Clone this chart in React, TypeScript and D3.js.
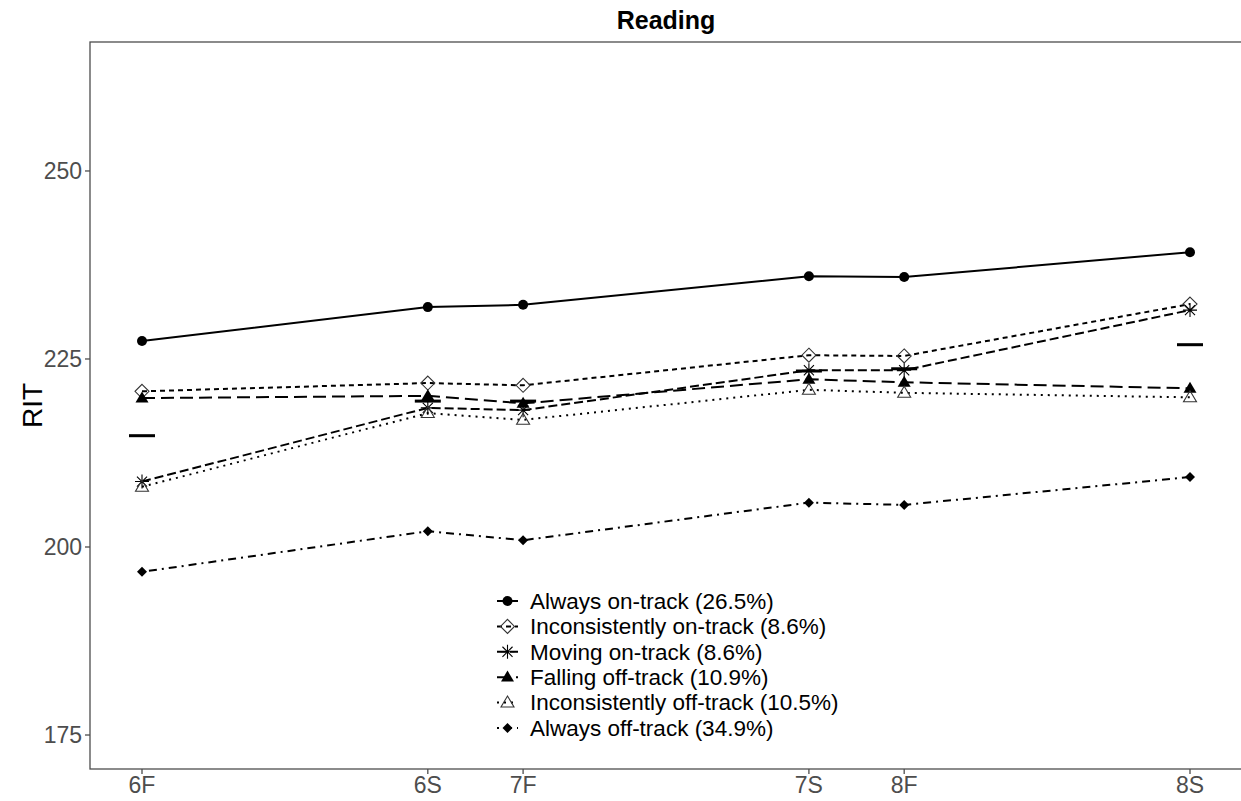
import * as d3 from 'd3';

// waves, spaced by months from the fall of 6th grade
const waves = ['6F', '6S', '7F', '7S', '8F', '8S'];
const waveX = [0, 3, 4, 7, 8, 11];

const groupNames = [
    'Always on-track (26.5%)',
    'Inconsistently on-track (8.6%)',
    'Moving on-track (8.6%)',
    'Falling off-track (10.9%)',
    'Inconsistently off-track (10.5%)',
    'Always off-track (34.9%)',
];

const alwaysOn = [227.4, 231.9, 232.2, 236.0, 235.9, 239.2];
const inconsistentlyOn = [220.7, 221.8, 221.5, 225.5, 225.4, 232.3];
const movingOn = [208.7, 218.5, 218.2, 223.5, 223.5, 231.5];
const fallingOff = [219.8, 220.1, 219.1, 222.3, 221.9, 221.1];
const inconsistentlyOff = [208.0, 217.8, 216.9, 220.9, 220.5, 219.9];
const alwaysOff = [196.7, 202.1, 200.9, 205.9, 205.6, 209.3];

// overall mean at each wave (short bars)
const overallMean = [214.8, 219.4, 219.4, 223.4, 223.7, 226.9];

const yTicks = [175, 200, 225, 250];

const seriesValues = [alwaysOn, inconsistentlyOn, movingOn, fallingOff, inconsistentlyOff, alwaysOff];
const dashes = ['none', '5,4', '9,4', '13,6', '2,5', '2,5,8,5'];
const shapes = ['circle', 'diamondOpen', 'asterisk', 'triangle', 'triangleOpen', 'diamond'];

const W = 1241;
const H = 801;
const left = 90, right = 1242, top = 42, bottom = 769;

const x = d3.scaleLinear().domain([0, 11]).range([142, 1190]);
const y = d3.scaleLinear().domain([170.48, 267.15]).range([bottom, top]);

function Marker({ shape, cx, cy }: { shape: string; cx: number; cy: number }) {
    if (shape === 'circle') return <circle cx={cx} cy={cy} r={5} fill="#000" />;
    if (shape === 'diamondOpen') {
        const s = 7;
        return <path d={`M${cx},${cy - s}L${cx + s},${cy}L${cx},${cy + s}L${cx - s},${cy}Z`} fill="none" stroke="#333" strokeWidth={1.1} />;
    }
    if (shape === 'diamond') {
        const s = 5;
        return <path d={`M${cx},${cy - s}L${cx + s},${cy}L${cx},${cy + s}L${cx - s},${cy}Z`} fill="#000" />;
    }
    if (shape === 'triangle' || shape === 'triangleOpen') {
        const w = 6.5, h = 11;
        const d = `M${cx},${cy - h * 0.6}L${cx + w},${cy + h * 0.4}L${cx - w},${cy + h * 0.4}Z`;
        return shape === 'triangle'
            ? <path d={d} fill="#000" />
            : <path d={d} fill="none" stroke="#333" strokeWidth={1.1} />;
    }
    // asterisk: plus and cross
    const r = 7, q = r * 0.72;
    return (
        <path
            d={`M${cx - r},${cy}L${cx + r},${cy}M${cx},${cy - r}L${cx},${cy + r}M${cx - q},${cy - q}L${cx + q},${cy + q}M${cx - q},${cy + q}L${cx + q},${cy - q}`}
            stroke="#000" strokeWidth={1.1} fill="none"
        />
    );
}

export default function App() {
    const line = d3.line<number>()
        .x((_, i) => x(waveX[i]))
        .y(d => y(d));

    const legendX = 497, legendY = 601, legendStep = 25.4;

    return (
        <svg width={W} height={H} style={{ position: 'absolute', left: 0, top: 0, background: '#fff' }}
            fontFamily="'Liberation Sans', Arial, sans-serif">
            <rect x={0} y={0} width={W} height={H} fill="#fff" />

            {/* lines */}
            {seriesValues.map((vals, i) => (
                <path key={'l' + i} d={line(vals) || ''} fill="none" stroke="#000" strokeWidth={2}
                    strokeDasharray={dashes[i]} />
            ))}

            {/* points */}
            {seriesValues.map((vals, i) =>
                vals.map((v, j) => <Marker key={'p' + i + '-' + j} shape={shapes[i]} cx={x(waveX[j])} cy={y(v)} />)
            )}

            {/* overall means */}
            {overallMean.map((v, j) => (
                <rect key={'m' + j} x={x(waveX[j]) - 13} y={y(v) - 1.5} width={26} height={3} fill="#000" />
            ))}

            {/* panel border */}
            <rect x={left} y={top} width={right - left} height={bottom - top} fill="none" stroke="#4d4d4d" strokeWidth={1.3} />

            {/* y axis */}
            {yTicks.map(t => (
                <g key={'y' + t}>
                    <line x1={left - 5} x2={left} y1={y(t)} y2={y(t)} stroke="#4d4d4d" strokeWidth={1.3} />
                    <text x={left - 8} y={y(t)} dy="0.35em" textAnchor="end" fontSize={23} fill="#4d4d4d">{t}</text>
                </g>
            ))}

            {/* x axis */}
            {waves.map((w, j) => (
                <g key={'x' + w}>
                    <line x1={x(waveX[j])} x2={x(waveX[j])} y1={bottom} y2={bottom + 5} stroke="#4d4d4d" strokeWidth={1.3} />
                    <text x={x(waveX[j])} y={bottom + 24} textAnchor="middle" fontSize={23} fill="#4d4d4d">{w}</text>
                </g>
            ))}

            <text x={666} y={29} textAnchor="middle" fontSize={25} fontWeight="bold" fill="#000">Reading</text>
            <text transform={`translate(42,${(top + bottom) / 2}) rotate(-90)`} textAnchor="middle" fontSize={28} fill="#000">RIT</text>

            {/* legend */}
            {groupNames.map((name, i) => {
                const ly = legendY + i * legendStep;
                return (
                    <g key={'lg' + i}>
                        <line x1={legendX} x2={legendX + 21} y1={ly} y2={ly} stroke="#000" strokeWidth={2}
                            strokeDasharray={dashes[i]} />
                        <Marker shape={shapes[i]} cx={legendX + 10.5} cy={ly} />
                        <text x={legendX + 33} y={ly} dy="0.35em" fontSize={22.5} fill="#000">{name}</text>
                    </g>
                );
            })}
        </svg>
    );
}
